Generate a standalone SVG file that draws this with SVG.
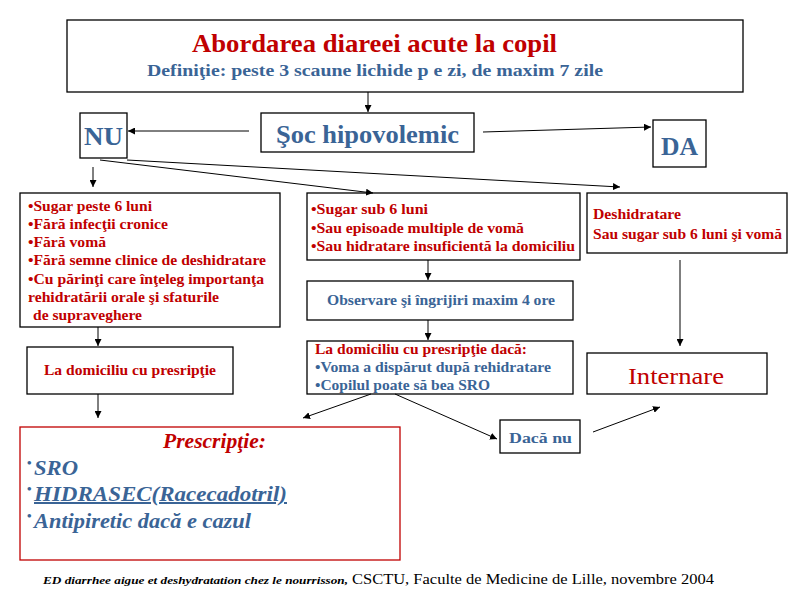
<svg xmlns="http://www.w3.org/2000/svg" width="800" height="600" viewBox="0 0 800 600">
<style>
.box{fill:#fff;stroke:#000;stroke-width:1.3}
.t{font-family:"Liberation Serif","Times New Roman","DejaVu Serif","Noto Serif",serif;font-weight:bold}
.f{font-family:"Liberation Serif","Times New Roman","DejaVu Serif","Noto Serif",serif}
.r{fill:#c00000}
.b{fill:#3a6496}
.s14{font-size:14px}
.c{stroke:#000;stroke-width:1;fill:none;marker-end:url(#ah)}
</style>
<defs>
<marker id="ah" viewBox="0 0 10 10" refX="10" refY="5" markerWidth="7" markerHeight="7" orient="auto" markerUnits="userSpaceOnUse">
<path d="M0,0 L10,5 L0,10 z" fill="#000"/>
</marker>
</defs>
<rect width="800" height="600" fill="#fff"/>

<g id="title">
<rect class="box" x="67" y="20" width="676" height="72"/>
<text class="t r" x="192" y="52" font-size="25" textLength="365" lengthAdjust="spacingAndGlyphs">Abordarea diareei acute la copil</text>
<text class="t b" x="147" y="76" font-size="17" textLength="456" lengthAdjust="spacingAndGlyphs">Definiţie: peste 3 scaune lichide p e zi, de maxim 7 zile</text>
</g>

<g id="soc">
<rect class="box" x="261" y="113" width="213" height="39"/>
<text class="t b" x="276" y="143" font-size="26" textLength="183" lengthAdjust="spacingAndGlyphs">Şoc hipovolemic</text>
</g>

<g id="nu">
<rect class="box" x="80" y="113" width="47" height="45"/>
<text class="t b" x="84" y="145" font-size="25" textLength="39" lengthAdjust="spacingAndGlyphs">NU</text>
</g>

<g id="da">
<rect class="box" x="653" y="120" width="53" height="47"/>
<text class="t b" x="661" y="155" font-size="26" textLength="37" lengthAdjust="spacingAndGlyphs">DA</text>
</g>

<g id="box1">
<rect class="box" x="20" y="193" width="260" height="134"/>
<g class="t r s14">
<text x="28" y="211" textLength="124" lengthAdjust="spacingAndGlyphs">•Sugar peste 6 luni</text>
<text x="28" y="229" textLength="140" lengthAdjust="spacingAndGlyphs">•Fără infecţii cronice</text>
<text x="28" y="247" textLength="78" lengthAdjust="spacingAndGlyphs">•Fără vomă</text>
<text x="28" y="265" textLength="238" lengthAdjust="spacingAndGlyphs">•Fără semne clinice de deshidratare</text>
<text x="28" y="284" textLength="236" lengthAdjust="spacingAndGlyphs">•Cu părinţi care înţeleg importanţa</text>
<text x="28" y="302" textLength="191" lengthAdjust="spacingAndGlyphs">rehidratării orale şi sfaturile</text>
<text x="33" y="320" textLength="109" lengthAdjust="spacingAndGlyphs">de supraveghere</text>
</g>
</g>

<g id="box2">
<rect class="box" x="307" y="193" width="273" height="67"/>
<g class="t r s14">
<text x="311" y="214" textLength="117" lengthAdjust="spacingAndGlyphs">•Sugar sub 6 luni</text>
<text x="311" y="233" textLength="213" lengthAdjust="spacingAndGlyphs">•Sau episoade multiple de vomă</text>
<text x="311" y="251" textLength="264" lengthAdjust="spacingAndGlyphs">•Sau hidratare insuficientă la domiciliu</text>
</g>
</g>

<g id="box3">
<rect class="box" x="587" y="193" width="200" height="60"/>
<g class="t r s14">
<text x="593" y="219" textLength="88" lengthAdjust="spacingAndGlyphs">Deshidratare</text>
<text x="593" y="239" textLength="189" lengthAdjust="spacingAndGlyphs">Sau sugar sub 6 luni şi vomă</text>
</g>
</g>

<g id="observare">
<rect class="box" x="307" y="281" width="266" height="39"/>
<text class="t b s14" x="327" y="305" textLength="228" lengthAdjust="spacingAndGlyphs">Observare şi îngrijiri maxim 4 ore</text>
</g>

<g id="domiciliu-daca">
<rect class="box" x="307" y="341" width="266" height="53"/>
<text class="t r s14" x="315" y="354" textLength="212" lengthAdjust="spacingAndGlyphs">La domiciliu cu presripţie dacă:</text>
<text class="t b s14" x="315" y="372" textLength="236" lengthAdjust="spacingAndGlyphs">•Voma a dispărut după rehidratare</text>
<text class="t b s14" x="315" y="390" textLength="175" lengthAdjust="spacingAndGlyphs">•Copilul poate să bea SRO</text>
</g>

<g id="internare">
<rect class="box" x="587" y="353" width="180" height="41"/>
<text class="f" x="628" y="384" font-size="24" fill="#c00000" textLength="96" lengthAdjust="spacingAndGlyphs">Internare</text>
</g>

<g id="domiciliu">
<rect class="box" x="27" y="347" width="206" height="47"/>
<text class="t r s14" x="44" y="375" textLength="172" lengthAdjust="spacingAndGlyphs">La domiciliu cu presripţie</text>
</g>

<g id="dacanu">
<rect class="box" x="500" y="420" width="80" height="33"/>
<text class="t b" x="509" y="443" font-size="15" textLength="63" lengthAdjust="spacingAndGlyphs">Dacă nu</text>
</g>

<g id="prescriptie">
<rect x="20" y="427" width="380" height="133" fill="#fff" stroke="#c00000" stroke-width="1.3"/>
<text class="t r" x="163" y="448" font-size="20" font-style="italic" textLength="103" lengthAdjust="spacingAndGlyphs">Prescripţie:</text>
<g class="t b" font-size="20" font-style="italic">
<text x="27" y="467" font-size="13" font-style="normal">•</text>
<text x="34" y="475" textLength="44" lengthAdjust="spacingAndGlyphs">SRO</text>
<text x="27" y="493" font-size="13" font-style="normal">•</text>
<text x="34" y="501" text-decoration="underline" textLength="253" lengthAdjust="spacingAndGlyphs">HIDRASEC(Racecadotril) </text>
<text x="27" y="520" font-size="13" font-style="normal">•</text>
<text x="34" y="528" textLength="217" lengthAdjust="spacingAndGlyphs">Antipiretic dacă e cazul</text>
</g>
</g>

<g id="footer">
<text class="f" x="43" y="584" font-size="11" font-style="italic" font-weight="bold" textLength="305" lengthAdjust="spacingAndGlyphs">ED diarrhee aigue et deshydratation chez le nourrisson,</text>
<text class="f" x="352" y="584" font-size="15" textLength="362" lengthAdjust="spacingAndGlyphs">CSCTU, Faculte de Medicine de Lille, novembre 2004</text>
</g>

<g id="connectors">
<line class="c" x1="368" y1="92" x2="368" y2="112"/>
<line class="c" x1="249" y1="131" x2="128" y2="131"/>
<line class="c" x1="483" y1="132" x2="651" y2="127"/>
<line class="c" x1="93" y1="167" x2="93" y2="187"/>
<line class="c" x1="100" y1="160" x2="373" y2="193"/>
<line class="c" x1="127" y1="160" x2="620" y2="187"/>
<line class="c" x1="428" y1="260" x2="428" y2="280"/>
<line class="c" x1="428" y1="320" x2="428" y2="340"/>
<line class="c" x1="680" y1="260" x2="680" y2="346"/>
<line class="c" x1="98" y1="327" x2="98" y2="346"/>
<line class="c" x1="98" y1="394" x2="98" y2="418"/>
<line class="c" x1="371" y1="394" x2="303" y2="418"/>
<line class="c" x1="395" y1="394" x2="497" y2="439"/>
<line class="c" x1="593" y1="432" x2="660" y2="407"/>
</g>
</svg>
